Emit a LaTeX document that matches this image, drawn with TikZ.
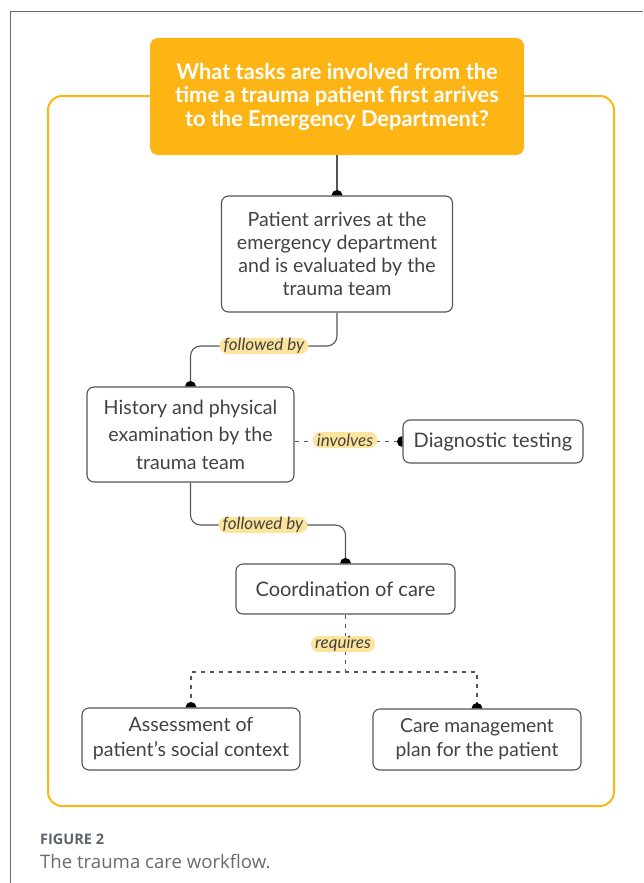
\documentclass[tikz,border=0pt]{standalone}
\usepackage{fontspec}
\setmainfont{Lato}
\newfontfamily\capfont{Open Sans}
\usetikzlibrary{calc}
\definecolor{amber}{HTML}{FDB515}
\definecolor{pill}{HTML}{FCE49C}
\definecolor{ink}{HTML}{424242}
\definecolor{wire}{HTML}{555555}
\definecolor{capgray}{HTML}{5C6370}
\definecolor{captext}{HTML}{6A6A6A}
\definecolor{framegray}{HTML}{6A6A6A}

% half disk sitting on a node border
\newcommand{\northdot}[1]{\fill[black] ([xshift=-5.5pt]#1) arc[start angle=180,end angle=0,radius=5.5pt];}
\newcommand{\westdot}[1]{\fill[black] ([yshift=5.5pt]#1) arc[start angle=90,end angle=270,radius=5.5pt];}

\begin{document}
\begin{tikzpicture}[x=1pt,y=-1pt,
  task/.style={draw=wire, line width=1.1pt, rounded corners=7pt, fill=white,
    text=ink, align=center, inner sep=0pt, font=\fontsize{19.6}{23}\selectfont},
  question/.style={fill=amber, rounded corners=8pt, text=white, align=center,
    inner sep=0pt, font=\fontsize{21.8}{23.5}\selectfont\bfseries},
  link/.style={draw=wire, line width=1.1pt, rounded corners=10pt},
  dlink/.style={draw=wire, line width=1.1pt, dash pattern=on 4pt off 5pt},
  tag/.style={fill=pill, rounded corners=7.5pt, text=ink, inner xsep=4pt,
    inner ysep=0pt, minimum height=16pt, font=\fontsize{17}{17}\selectfont\itshape}
]
\useasboundingbox (0,0) rectangle (643,883);

% page frame
\draw[framegray, line width=0.8pt] (10,883) -- (10,11) -- (643,11);

% yellow outer frame
\draw[amber, line width=2pt, rounded corners=14pt] (48,96) rectangle (614,806);

% question box
\node[question, minimum width=374pt, minimum height=117pt] (q) at (337,96.5)
  {What tasks are involved from the\\time a trauma patient first arrives\\to the Emergency Department?};

% tasks
\node[task, minimum width=231pt, minimum height=116pt] (n1) at (337,254)
  {Patient arrives at the\\emergency department\\and is evaluated by the\\trauma team};
\node[task, minimum width=207pt, minimum height=95pt, font=\fontsize{19.6}{27.5}\selectfont] (n2) at (190.5,434.5)
  {History and physical\\examination by the\\trauma team};
\node[task, minimum width=180pt, minimum height=43pt, font=\fontsize{20}{22}\selectfont] (n3) at (493,441.5)
  {Diagnostic testing};
\node[task, minimum width=219pt, minimum height=50pt, font=\fontsize{20}{22}\selectfont] (n4) at (345.5,589)
  {Coordination of care};
\node[task, minimum width=218pt, minimum height=62pt, font=\fontsize{19.6}{25}\selectfont] (n5) at (191,739)
  {Assessment of\\patient’s social context};
\node[task, minimum width=208pt, minimum height=61pt, font=\fontsize{19.3}{24}\selectfont] (n6) at (477,739.5)
  {Care management\\plan for the patient};

% connector waypoints
\coordinate (m1) at (264,346);
\coordinate (m2) at (263,525);
\coordinate (m3) at (345,440);
\coordinate (m4) at (343,644);
\coordinate (split) at (343,672);

% connectors
\draw[link] (q.south) -- (n1.north);
\draw[link] (n1.south) |- (m1) -| (n2.north);
\draw[link] (n2.south) |- (m2) -| (n4.north);
\draw[dlink] (n2.east |- n3.west) -- (n3.west);
\draw[dlink] (n4.south) -- (n4.south |- split);
\draw[dlink] (n5.north) |- (split) -| (n6.north);

% end dots
\northdot{n1.north}
\northdot{n2.north}
\northdot{n4.north}
\northdot{n5.north}
\northdot{n6.north}
\westdot{n3.west}

% connector labels
\node[tag] at (m1) {followed by};
\node[tag] at (m2) {followed by};
\node[tag] at (m3) {involves};
\node[tag] at (m4) {requires};

% caption
\node[anchor=west, inner sep=0pt, text=capgray, font=\capfont\fontsize{14.5}{16}\selectfont\bfseries] (fig) at (40,839) {FIGURE 2};
\node[anchor=west, inner sep=0pt, text=captext, font=\capfont\fontsize{18.6}{20}\selectfont] (cap) at (40,862) {The trauma care workflow.};
\end{tikzpicture}
\end{document}
